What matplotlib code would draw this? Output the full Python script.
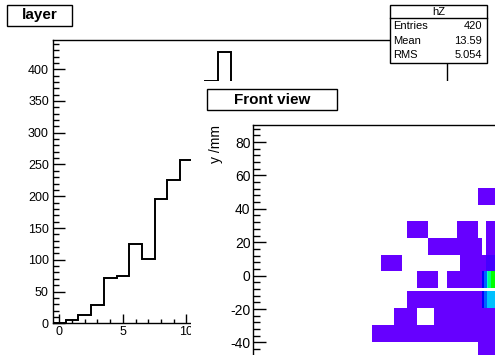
import numpy as np
import matplotlib
matplotlib.use("Agg")
import matplotlib.pyplot as plt
from matplotlib.patches import Rectangle
from matplotlib.lines import Line2D
from matplotlib.ticker import MultipleLocator

plt.rcParams['font.family'] = ['Liberation Sans', 'DejaVu Sans']
plt.rcParams['axes.unicode_minus'] = False

# histogram "hZ" (layer), bins centred on integers, only the visible part
layer_bins = np.arange(0, 14)
layer_counts = [0, 5, 13, 29, 72, 74, 125, 101, 196, 226, 257, 345, 382, 427]

# stats box
stat_names = ["Entries", "Mean", "RMS"]
stat_values = ["420", "13.59", "5.054"]

# front view cells: y rows (mm) and x segments (x0, x1, colour level)
row_y = [(42.5, 52.5), (32.5, 42.5), (22.5, 32.5), (12.5, 22.5), (2.5, 12.5),
         (-7.5, 2.5), (-19.5, -9.5), (-29.5, -19.5), (-39.5, -29.5), (-49.5, -39.5)]
row_segs = [
    [(-6.3, 12, 1)],
    [],
    [(-39.3, -29.4, 1), (-16.3, -6.3, 1), (-2.6, 12, 1)],
    [(-29.4, -4.6, 1), (-2.6, 12, 1)],
    [(-51.3, -41.3, 1), (-14.7, -2.6, 1), (-2.6, 12, 2)],
    [(-34.7, -24.7, 1), (-20.9, -4.5, 1), (-4.5, -3.5, 3), (-3.5, -2.5, 4),
     (-2.5, -1.7, 6), (-1.7, -0.6, 7), (-0.6, 12, 8)],
    [(-39.3, -4.5, 1), (-4.5, -3.5, 3), (-3.5, -2.5, 4), (-2.5, 12, 5)],
    [(-45.0, -34.7, 1), (-26.7, 12, 1)],
    [(-55.2, 12, 1)],
    [(-6.3, 12, 1)],
]
palette = ['#6600ff', '#4400ff', '#0000ff', '#0060ff', '#00c0ff',
           '#00ffd0', '#00ff80', '#00ff00']
front_yticks = [-40, -20, 0, 20, 40, 60, 80]

W, H = 495, 355


def fr(x0, y0, x1, y1):
    # pixel box (top-left origin) -> figure fraction rect
    return [x0 / W, 1 - y1 / H, (x1 - x0) / W, (y1 - y0) / H]


def box(x0, y0, x1, y1, z=3):
    r = Rectangle((x0 / W, 1 - y1 / H), (x1 - x0) / W, (y1 - y0) / H,
                  transform=fig.transFigure, facecolor='white',
                  edgecolor='black', lw=1.0, zorder=z)
    fig.add_artist(r)


fig = plt.figure(figsize=(4.95, 3.55), dpi=100)

# ---- left pad: layer histogram
ax1 = fig.add_axes(fr(53, 40, 446.7, 323.3))
ax1.set_zorder(0)
edges = np.append(layer_bins - 0.5, layer_bins[-1] + 0.5)
ax1.stairs(layer_counts, edges, color='black', lw=1.4)
ax1.set_xlim(-0.5, 30.5)
ax1.set_ylim(0, 446)
ax1.xaxis.set_major_locator(MultipleLocator(5))
ax1.xaxis.set_minor_locator(MultipleLocator(1))
ax1.yaxis.set_major_locator(MultipleLocator(50))
ax1.yaxis.set_minor_locator(MultipleLocator(10))
ax1.tick_params(which='both', direction='in', width=1, labelsize=9, colors='black')
ax1.tick_params(axis='x', which='major', length=6.2, pad=2)
ax1.tick_params(axis='x', which='minor', length=3.1)
ax1.tick_params(axis='y', which='major', length=8.5, pad=3)
ax1.tick_params(axis='y', which='minor', length=4.3)
for s in ax1.spines.values():
    s.set_linewidth(1.0)

# ---- white pad covering the right/bottom part
cover = Rectangle((191 / W, 0), 1 - 191 / W, 1 - 81 / H, transform=fig.transFigure,
                  facecolor='white', edgecolor='none', zorder=1)
fig.add_artist(cover)

# ---- front view pad (extends past the canvas edge)
ax2 = fig.add_axes(fr(253.3, 125.3, 253.3 + 477.4, 125.3 + 300.6))
ax2.set_zorder(2)
for (y0, y1), segs in zip(row_y, row_segs):
    if segs:
        ax2.broken_barh([(a, b - a) for a, b, lv in segs], (y0, y1 - y0),
                        facecolors=[palette[lv - 1] for a, b, lv in segs],
                        edgecolor='none')
ax2.set_xlim(-110, 110)
ax2.set_ylim(-90, 90)
ax2.set_yticks(front_yticks)
ax2.yaxis.set_minor_locator(MultipleLocator(4))
ax2.tick_params(which='both', direction='in', width=1, labelsize=10, colors='black')
ax2.tick_params(axis='x', labelbottom=False)
ax2.tick_params(axis='y', which='major', length=9.6, pad=2)
ax2.tick_params(axis='y', which='minor', length=4.8)
ax2.set_ylabel('y /mm', fontsize=10, loc='top')
ax2.yaxis.set_label_coords(-0.0635, 1.0)
for s in ax2.spines.values():
    s.set_linewidth(1.0)

# ---- title boxes
box(7.3, 5, 71.7, 25.7)
fig.text(39.5 / W, 1 - 15.5 / H, 'layer', ha='center', va='center',
         fontsize=11, fontweight='bold', zorder=4)
box(206.7, 89.3, 336.7, 110)
fig.text(271.7 / W, 1 - 99.8 / H, 'Front view', ha='center', va='center',
         fontsize=11, fontweight='bold', zorder=4)

# ---- stats box
box(390, 5, 486.7, 63.3)
fig.add_artist(Line2D([390 / W, 486.7 / W], [1 - 18.3 / H] * 2,
                      transform=fig.transFigure, color='black', lw=1.0, zorder=3))
fig.text(438.3 / W, 1 - 11.7 / H, 'hZ', ha='center', va='center', fontsize=8, zorder=4)
for i, (nm, val) in enumerate(zip(stat_names, stat_values)):
    yy = 1 - (26 + 14.5 * i) / H
    fig.text(393 / W, yy, nm, ha='left', va='center', fontsize=8, zorder=4)
    fig.text(482 / W, yy, val, ha='right', va='center', fontsize=8, zorder=4)

fig.savefig('out.png', dpi=100)
